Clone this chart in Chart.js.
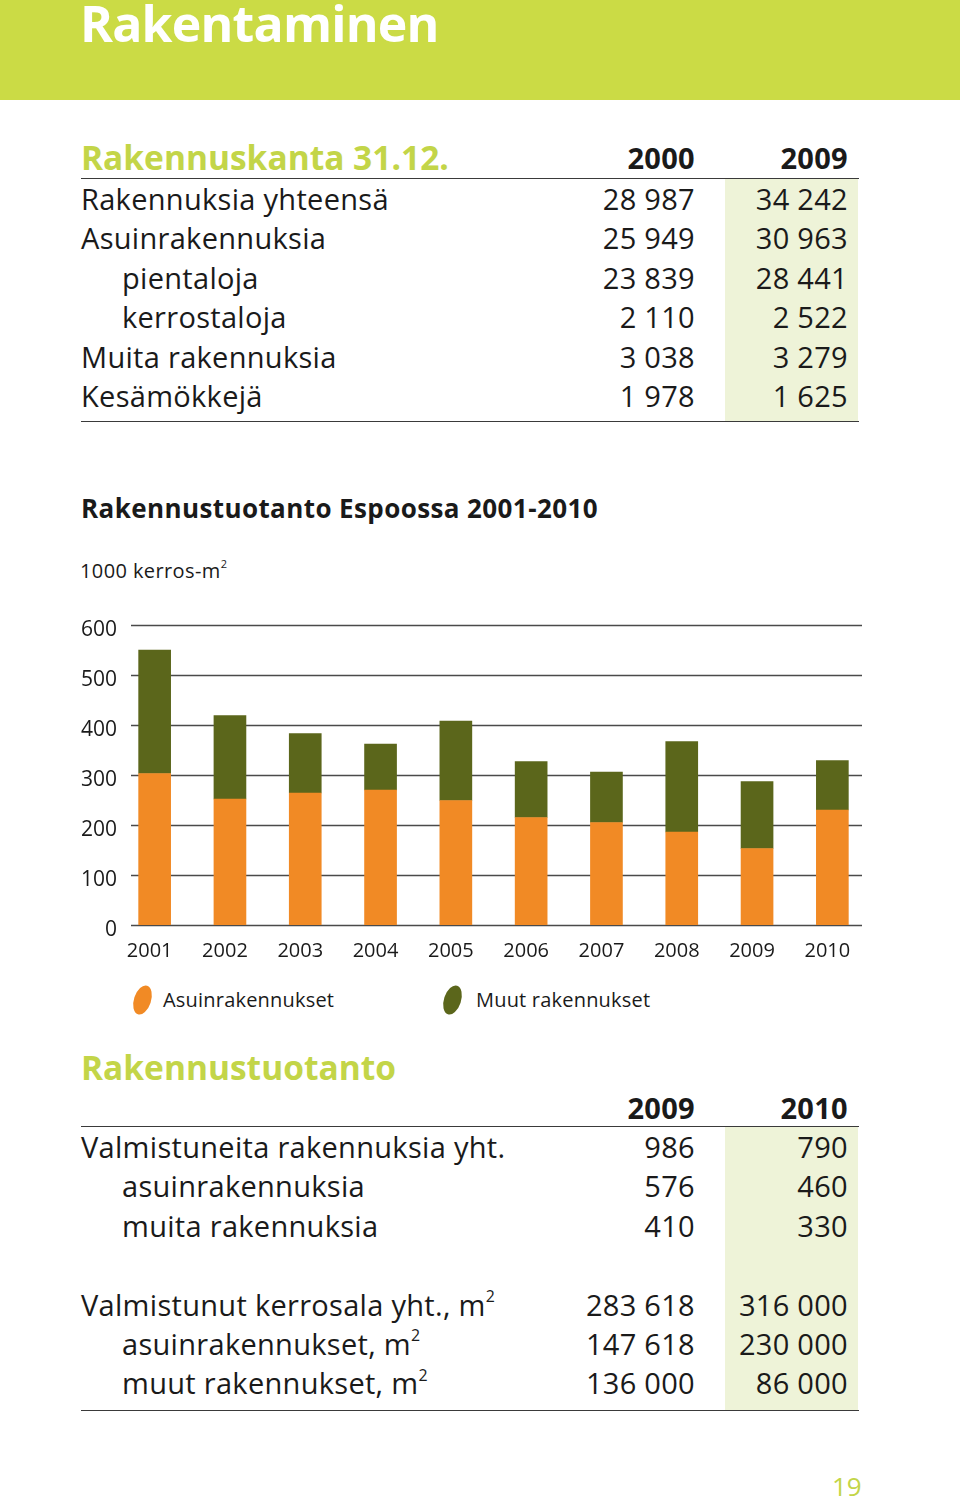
<!DOCTYPE html>
<html lang="fi">
<head>
<meta charset="utf-8">
<title>Rakentaminen</title>
<script src="https://cdn.jsdelivr.net/npm/chart.js"></script>
<style>
  html, body { margin: 0; padding: 0; }
  body {
    width: 960px; height: 1508px; position: relative; overflow: hidden;
    background: #fff; font-family: "Open Sans", sans-serif; color: #1a1a1a;
  }
  .abs { position: absolute; }
  .band { left: 0; top: 0; width: 960px; height: 100px; background: #cbdb45; }
  .title { left: 80px; top: -11px; font-size: 50px; font-weight: 700; color: #fff; letter-spacing: -0.8px; }
  .green { color: #c3d548; font-weight: 700; }
  .rule { left: 81px; width: 778px; height: 0; border-top: 1.5px solid #3a3a3a; }
  .shade { left: 725px; width: 133px; background: #eef3d8; }
  .row { left: 0; width: 960px; height: 39.4px; line-height: 39.4px; font-size: 29px; letter-spacing: 0.3px; }
  .row span { position: absolute; white-space: nowrap; }
  .lbl { left: 81px; }
  .lbl.ind { left: 122px; }
  .v1 { right: 265px; text-align: right; }
  .v2 { right: 112px; text-align: right; }
  .hdr { font-weight: 700; }
  sup { font-size: 0.55em; line-height: 0; position: relative; top: -0.2em; }
  .ctitle { left: 81px; top: 490px; font-size: 26px; font-weight: 700; letter-spacing: 0.4px; }
  .unit { left: 80px; top: 557px; font-size: 20px; letter-spacing: 0.4px; }
  .leg { font-size: 20px; top: 986px; letter-spacing: 0.2px; }
  .dot { width: 17px; height: 30px; border-radius: 50%; transform: rotate(18deg); }
  #chartBox { left: 70px; top: 600px; width: 800px; height: 365px; }
</style>
</head>
<body>
<div class="abs band"></div>
<div class="abs title">Rakentaminen</div>

<div id="tab1"></div>

<div class="abs ctitle">Rakennustuotanto Espoossa 2001-2010</div>
<div class="abs unit">1000 kerros-m<sup>2</sup></div>
<div class="abs" id="chartBox"><canvas id="chart"></canvas></div>

<div class="abs dot" style="left:134px;top:985px;background:#f18a25"></div>
<div class="abs leg" style="left:163px">Asuinrakennukset</div>
<div class="abs dot" style="left:444px;top:985px;background:#5b661b"></div>
<div class="abs leg" style="left:476px">Muut rakennukset</div>

<div id="tab2"></div>

<div class="abs green" style="left:832px;top:1468px;font-size:26px;font-weight:400">19</div>

<script>
// kaavion data (1000 kerros-m2)
const years = ['2001', '2002', '2003', '2004', '2005', '2006', '2007', '2008', '2009', '2010'];
const asuinrakennukset = [303, 252, 264, 270, 249, 215, 205, 186, 153, 230];
const muutRakennukset = [247, 167, 119, 92, 159, 112, 101, 181, 134, 99];
const yTicks = [0, 100, 200, 300, 400, 500, 600];

// taulukot
const kantaYears = ['2000', '2009'];
const kantaLabels = ['Rakennuksia yhteensä', 'Asuinrakennuksia', 'pientaloja', 'kerrostaloja', 'Muita rakennuksia', 'Kesämökkejä'];
const kantaIndent = [false, false, true, true, false, false];
const kanta2000 = ['28 987', '25 949', '23 839', '2 110', '3 038', '1 978'];
const kanta2009 = ['34 242', '30 963', '28 441', '2 522', '3 279', '1 625'];

const tuotYears = ['2009', '2010'];
const tuotLabels = ['Valmistuneita rakennuksia yht.', 'asuinrakennuksia', 'muita rakennuksia', '',
  'Valmistunut kerrosala yht., m<sup>2</sup>', 'asuinrakennukset, m<sup>2</sup>', 'muut rakennukset, m<sup>2</sup>'];
const tuotIndent = [false, true, true, false, false, true, true];
const tuot2009 = ['986', '576', '410', '', '283 618', '147 618', '136 000'];
const tuot2010 = ['790', '460', '330', '', '316 000', '230 000', '86 000'];

const ROW = 39.4;

// rakentaa taulukon absoluuttisilla riveillä
function buildTable(el, opts) {
  let html = '';
  const n = opts.labels.length;
  const firstTop = opts.lineY + 1;
  const bottom = firstTop + n * ROW + opts.tail;
  html += `<div class="abs shade" style="top:${firstTop}px;height:${bottom - firstTop}px"></div>`;
  html += `<div class="abs green" style="left:81px;top:${opts.headY - 24}px;font-size:${opts.headSize}px">${opts.heading}</div>`;
  html += `<div class="abs row hdr" style="top:${opts.colY - ROW / 2}px">` +
    `<span class="v1">${opts.cols[0]}</span><span class="v2">${opts.cols[1]}</span></div>`;
  html += `<div class="abs rule" style="top:${opts.lineY}px"></div>`;
  for (let i = 0; i < n; i++) {
    const top = firstTop + i * ROW;
    html += `<div class="abs row" style="top:${top}px">` +
      `<span class="lbl${opts.indent[i] ? ' ind' : ''}">${opts.labels[i]}</span>` +
      `<span class="v1">${opts.a[i]}</span><span class="v2">${opts.b[i]}</span></div>`;
  }
  html += `<div class="abs rule" style="top:${bottom}px"></div>`;
  el.innerHTML = html;
}

buildTable(document.getElementById('tab1'), {
  heading: 'Rakennuskanta 31.12.', headY: 158, headSize: 33.5,
  colY: 158, lineY: 178, cols: kantaYears, tail: 6,
  labels: kantaLabels, indent: kantaIndent, a: kanta2000, b: kanta2009
});
buildTable(document.getElementById('tab2'), {
  heading: 'Rakennustuotanto', headY: 1068, headSize: 33.5,
  colY: 1108, lineY: 1126, cols: tuotYears, tail: 7,
  labels: tuotLabels, indent: tuotIndent, a: tuot2009, b: tuot2010
});

// vaakaviivat kapeammalle kuin kaavioalue
const gridPlugin = {
  id: 'gridLines',
  beforeDatasetsDraw(chart) {
    const ctx = chart.ctx;
    const y = chart.scales.y;
    ctx.save();
    ctx.strokeStyle = '#4a4a4a';
    ctx.lineWidth = 1.5;
    yTicks.forEach(v => {
      const py = Math.round(y.getPixelForValue(v)) + 0.5;
      ctx.beginPath();
      ctx.moveTo(61, py);
      ctx.lineTo(792, py);
      ctx.stroke();
    });
    ctx.restore();
  }
};

Chart.defaults.font.family = '"Open Sans", sans-serif';
Chart.defaults.color = '#1a1a1a';

new Chart(document.getElementById('chart'), {
  type: 'bar',
  data: {
    labels: years,
    datasets: [
      { label: 'Asuinrakennukset', data: asuinrakennukset, backgroundColor: '#f18a25', barThickness: 32 },
      { label: 'Muut rakennukset', data: muutRakennukset, backgroundColor: '#5b661b', barThickness: 32 }
    ]
  },
  options: {
    responsive: true,
    maintainAspectRatio: false,
    animation: false,
    layout: { padding: { top: 25, right: 0, bottom: 0, left: 0 } },
    plugins: { legend: { display: false }, tooltip: { enabled: false } },
    scales: {
      x: {
        stacked: true,
        grid: { display: false, drawTicks: false },
        border: { display: false },
        ticks: { font: { size: 20 }, padding: 14, labelOffset: -5, maxRotation: 0, autoSkip: false },
        afterFit(scale) { scale.height = 40; }
      },
      y: {
        stacked: true,
        min: 0,
        max: 600,
        afterBuildTicks(scale) { scale.ticks = yTicks.map(v => ({ value: v })); },
        grid: { display: false, drawTicks: false },
        border: { display: false },
        ticks: { font: { size: 21 }, padding: 0, labelOffset: 5 },
        afterFit(scale) { scale.width = 47; }
      }
    }
  },
  plugins: [gridPlugin]
});
</script>
</body>
</html>
